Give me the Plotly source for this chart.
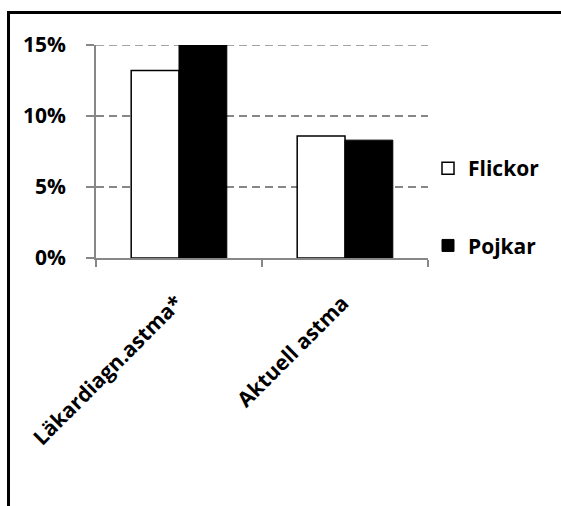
import plotly.graph_objects as go

categories = ["Läkardiagn.astma*", "Aktuell astma"]
flickor = [0.132, 0.086]
pojkar = [0.150, 0.083]
series_names = ["Flickor", "Pojkar"]
y_tickvals = [0, 0.05, 0.10, 0.15]
y_ticktext = ["0%", "5%", "10%", "15%"]

W, H = 561, 506
L, R, T, B = 96, 133, 45, 248
pw, ph = W - L - R, H - T - B

FONT = dict(family="Open Sans", size=21, color="black", weight="bold")
GREY = "#878787"

fig = go.Figure()
fig.add_trace(go.Bar(
    x=categories, y=flickor, name=series_names[0], legendgroup="f",
    marker=dict(color="white", line=dict(color="black", width=1.5)),
))
fig.add_trace(go.Bar(
    x=categories, y=pojkar, name=series_names[1], legendgroup="p",
    marker=dict(color="black", line=dict(color="black", width=1)),
))


def px_to_paper_x(px):
    return (px - L) / pw


def px_to_paper_y(py):
    return (H - B - py) / ph


# outer frame (left and top edges visible, rest outside the image)
fig.add_shape(type="rect", xref="paper", yref="paper",
              x0=px_to_paper_x(8.5), x1=px_to_paper_x(600),
              y0=px_to_paper_y(560), y1=px_to_paper_y(12.5),
              line=dict(color="black", width=3), fillcolor="rgba(0,0,0,0)",
              layer="above")

# top gridline (plotly hides the gridline that sits on the plot edge)
fig.add_shape(type="line", xref="paper", yref="y",
              x0=0, x1=1, y0=y_tickvals[-1], y1=y_tickvals[-1],
              line=dict(color=GREY, width=1.5, dash="8px,5px"), layer="below")

# rotated category labels (Excel-style: top-right corner at the category)
for i, cat in enumerate(categories):
    fig.add_annotation(x=i, xref="x", y=0, yref="paper",
                       text=cat, textangle=-45, showarrow=False,
                       xanchor="right", yanchor="top",
                       xshift=12, yshift=-28, font=FONT)

fig.update_layout(
    width=W, height=H,
    margin=dict(l=L, r=R, t=T, b=B, pad=0),
    paper_bgcolor="white", plot_bgcolor="white",
    barmode="group", bargap=0.424, bargroupgap=0,
    font=FONT,
    showlegend=True,
    legend=dict(x=1.0, xanchor="left", y=px_to_paper_y(148), yanchor="top",
                font=FONT, tracegroupgap=47, traceorder="grouped",
                bgcolor="rgba(0,0,0,0)", itemwidth=30),
    xaxis=dict(
        type="category", range=[-0.5, len(categories) - 0.5],
        showline=True, linecolor=GREY, linewidth=1.5,
        ticks="outside", ticklen=7, tickcolor=GREY, tickwidth=1.5,
        tickson="boundaries", showticklabels=False,
        showgrid=False, zeroline=False,
    ),
    yaxis=dict(
        range=[0, 0.15], tickvals=y_tickvals, ticktext=y_ticktext,
        showline=True, linecolor=GREY, linewidth=1.5,
        ticks="outside", ticklen=8, tickcolor=GREY, tickwidth=1.5,
        showgrid=True, gridcolor=GREY, gridwidth=1.5, griddash="8px,5px",
        zeroline=False, tickfont=FONT, ticklabelstandoff=16,
    ),
)

fig.write_html("out.html", post_script="document.body.style.margin='0';",
               config={"displayModeBar": False})
